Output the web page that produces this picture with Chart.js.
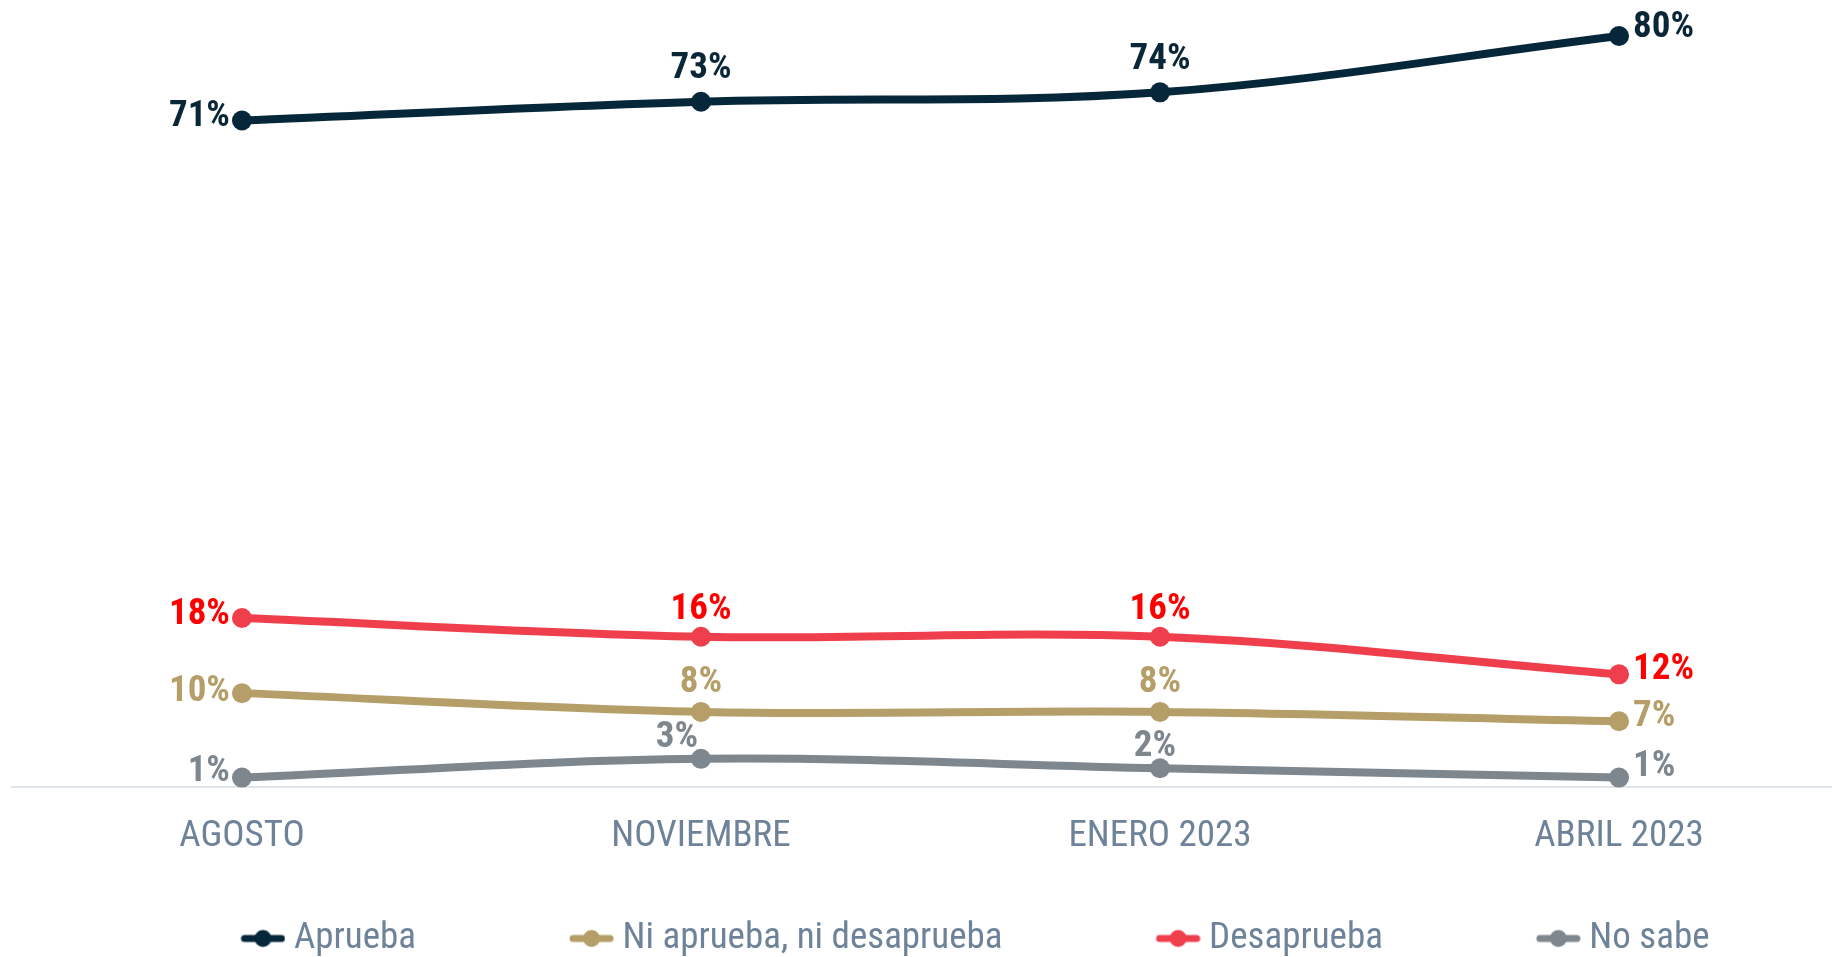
<!DOCTYPE html>
<html>
<head>
<meta charset="utf-8">
<script src="https://cdn.jsdelivr.net/npm/chart.js@4.4.0/dist/chart.umd.min.js"></script>
<style>
html, body { margin: 0; padding: 0; background: #fff; overflow: hidden; }
#wrap { width: 1832px; height: 957px; position: relative; }
</style>
</head>
<body>
<div id="wrap"><canvas id="trendplot"></canvas></div>
<script>
var categories = ["AGOSTO", "NOVIEMBRE", "ENERO 2023", "ABRIL 2023"];
var seriesNames = ["Aprueba", "Ni aprueba, ni desaprueba", "Desaprueba", "No sabe"];
var aprueba = [71, 73, 74, 80];
var niAprueba = [10, 8, 8, 7];
var desaprueba = [18, 16, 16, 12];
var noSabe = [1, 3, 2, 1];
var yRange = [0, 80];

var lineColors = ["#06263a", "#b59e68", "#ef3f4c", "#7e868e"];
var labelColors = ["#0a2738", "#b59e68", "#ff0000", "#7e868e"];
var condensed = "'Roboto Condensed', 'Liberation Sans Narrow', 'DejaVu Sans Condensed', Roboto, sans-serif";
var axisGrey = "#6e8399";

// where each series puts its value labels (pixels from the point)
var labelOffsets = [
    { left: -4, above: -33, right: -8 },
    { left: -1, above: -29, right: -5 },
    { left: -3, above: -27, right: -5 },
    { left: -6, above: -21, right: -11, aboveDx: [0, -24, -5, 0] }
];

function toPoints(values) {
    return values.map(function (v, i) { return { x: i, y: v }; });
}

// legend marker: a short thick line with a dot, drawn at the right end of a wide blank box
var markerBox = 145;
function legendMarker(color) {
    var c = document.createElement("canvas");
    c.width = markerBox + 20;
    c.height = 24;
    var g = c.getContext("2d");
    g.strokeStyle = color;
    g.fillStyle = color;
    g.lineWidth = 7;
    g.lineCap = "round";
    g.beginPath();
    g.moveTo(c.width - 41, 12);
    g.lineTo(c.width - 4, 12);
    g.stroke();
    g.beginPath();
    g.arc(c.width - 22.5, 12, 8.5, 0, Math.PI * 2);
    g.fill();
    return c;
}
var markers = lineColors.map(legendMarker);

// value labels: first point to the left, last to the right, others above
var pointLabels = {
    id: "pointLabels",
    afterDatasetsDraw: function (chart) {
        var ctx = chart.ctx;
        ctx.save();
        ctx.font = "bold 37px " + condensed;
        ctx.textBaseline = "middle";
        chart.data.datasets.forEach(function (ds, di) {
            var meta = chart.getDatasetMeta(di);
            var off = labelOffsets[di];
            var last = meta.data.length - 1;
            meta.data.forEach(function (pt, i) {
                var txt = ds.data[i].y + "%";
                ctx.fillStyle = labelColors[di];
                if (i === 0) {
                    ctx.textAlign = "right";
                    ctx.fillText(txt, pt.x - 12, pt.y + off.left);
                } else if (i === last) {
                    ctx.textAlign = "left";
                    ctx.fillText(txt, pt.x + 14, pt.y + off.right);
                } else {
                    ctx.textAlign = "center";
                    var dx = off.aboveDx ? off.aboveDx[i] : 0;
                    ctx.fillText(txt, pt.x + dx, pt.y + off.above);
                }
            });
        });
        ctx.restore();
    }
};

var legendNudge = {
    id: "legendNudge",
    afterLayout: function (chart) {
        chart.legend.top += 10;
        chart.legend.bottom += 10;
        chart.legend.left -= 2;
        chart.legend.right -= 2;
    }
};

function makeSet(name, values, idx) {
    return {
        label: name,
        data: toPoints(values),
        borderColor: lineColors[idx],
        backgroundColor: lineColors[idx],
        borderWidth: 8,
        pointRadius: 10,
        pointHoverRadius: 10,
        pointBorderWidth: 0,
        tension: 0.35,
        clip: false
    };
}

var ctx = document.getElementById("trendplot").getContext("2d");
var myChart = new Chart(ctx, {
    type: "line",
    data: {
        datasets: [
            makeSet(seriesNames[0], aprueba, 0),
            makeSet(seriesNames[1], niAprueba, 1),
            makeSet(seriesNames[2], desaprueba, 2),
            makeSet(seriesNames[3], noSabe, 3)
        ]
    },
    plugins: [pointLabels, legendNudge],
    options: {
        responsive: true,
        maintainAspectRatio: false,
        animation: false,
        layout: { autoPadding: false, padding: { top: 36, left: 12, right: 0, bottom: 0 } },
        plugins: {
            tooltip: { enabled: false },
            legend: {
                position: "bottom",
                labels: {
                    usePointStyle: true,
                    pointStyleWidth: markerBox,
                    padding: 43,
                    color: axisGrey,
                    font: { family: condensed, size: 37 },
                    generateLabels: function (chart) {
                        var items = Chart.defaults.plugins.legend.labels.generateLabels(chart);
                        items.forEach(function (item) {
                            item.pointStyle = markers[item.datasetIndex];
                        });
                        return items;
                    }
                }
            }
        },
        scales: {
            x: {
                type: "linear",
                min: -0.501,
                max: 3.464,
                afterBuildTicks: function (axis) {
                    axis.ticks = categories.map(function (c, i) { return { value: i }; });
                },
                afterFit: function (axis) {
                    axis.height = 80;
                    axis.paddingLeft = 0;
                    axis.paddingRight = 0;
                },
                grid: { display: false },
                border: { display: true, color: "#dfe5ea", width: 2 },
                ticks: {
                    autoSkip: false,
                    maxRotation: 0,
                    padding: 20,
                    color: axisGrey,
                    font: { family: condensed, size: 37 },
                    callback: function (value) {
                        return categories[value];
                    }
                }
            },
            y: {
                display: false,
                min: yRange[0],
                max: yRange[1]
            }
        }
    }
});
</script>
</body>
</html>
